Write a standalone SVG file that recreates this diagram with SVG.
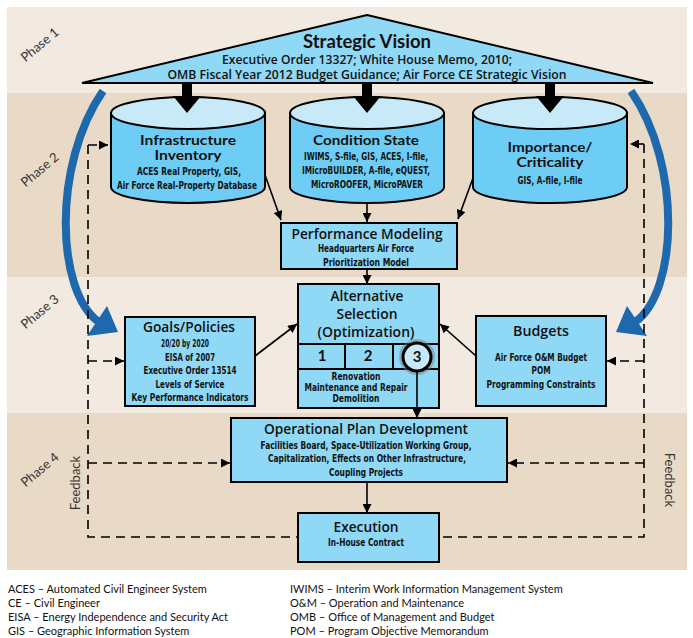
<svg xmlns="http://www.w3.org/2000/svg" width="693" height="638" viewBox="0 0 693 638">
<defs>
<marker id="ah" viewBox="0 0 10 10" refX="10" refY="5" markerWidth="10" markerHeight="9" markerUnits="userSpaceOnUse" orient="auto">
<path d="M0,0 L10,5 L0,10 z" fill="#000"/>
</marker>
<style>
.band1{fill:#f2e9e0}
.band2{fill:#e8dac7}
.box{fill:#8fd8f6;stroke:#000;stroke-width:2}
.cylb{fill:#6dcdf4;stroke:#000;stroke-width:2}
.cylt{fill:#c8eaf8;stroke:#000;stroke-width:2}
.ttl{font-family:"Open Sans",Lato,"Liberation Sans",sans-serif;font-weight:600;text-anchor:middle;fill:#111}
.bt{font-family:Lato,"Open Sans","Liberation Sans",sans-serif;font-weight:700;text-anchor:middle;fill:#111}
.cn{font-family:"Liberation Sans Narrow","DejaVu Sans Condensed","Liberation Sans",sans-serif;font-weight:700;text-anchor:middle;fill:#111;font-size:10.5px}
.ph{font-family:Lato,"Open Sans","Liberation Sans",sans-serif;font-size:13px;fill:#333;text-anchor:middle}
.lg{font-family:Lato,"Liberation Sans",sans-serif;font-size:11px;fill:#111}
.con{stroke:#000;stroke-width:1.6;fill:none}
.dash{stroke:#000;stroke-width:1.6;fill:none;stroke-dasharray:9,6}
.blue{stroke:#1e69ad;stroke-width:8;fill:none}
</style>
</defs>

<g id="bands">
<rect class="band1" x="7" y="7" width="680" height="86"/>
<rect class="band2" x="7" y="93" width="680" height="184"/>
<rect class="band1" x="7" y="277" width="680" height="136"/>
<rect class="band2" x="7" y="413" width="680" height="157"/>
<text class="ph" x="40" y="49" transform="rotate(-40 40 45)">Phase 1</text>
<text class="ph" x="40" y="174" transform="rotate(-40 40 170)">Phase 2</text>
<text class="ph" x="40" y="316" transform="rotate(-40 40 312)">Phase 3</text>
<text class="ph" x="40" y="474" transform="rotate(-40 40 470)">Phase 4</text>
</g>

<g id="strategic-vision">
<polygon points="367,15 653,83 82,83" fill="#8fd8f6" stroke="#000" stroke-width="2" stroke-linejoin="miter"/>
<text class="bt" x="367" y="48" font-size="18" textLength="128" lengthAdjust="spacingAndGlyphs">Strategic Vision</text>
<text class="ttl" x="367" y="63.5" font-size="12" textLength="290" lengthAdjust="spacingAndGlyphs">Executive Order 13327; White House Memo, 2010;</text>
<text class="ttl" x="367" y="79" font-size="12" textLength="399" lengthAdjust="spacingAndGlyphs">OMB Fiscal Year 2012 Budget Guidance; Air Force CE Strategic Vision</text>
</g>

<g id="infrastructure-inventory">
<path class="cylb" d="M111,113 V187 A77,16 0 0 0 265,187 V113 Z"/>
<ellipse class="cylt" cx="188" cy="113" rx="77" ry="16"/>
<text class="bt" x="188" y="145" font-size="13.5" textLength="96" lengthAdjust="spacingAndGlyphs">Infrastructure</text>
<text class="bt" x="188" y="160" font-size="13.5" textLength="67" lengthAdjust="spacingAndGlyphs">Inventory</text>
<text class="cn" x="189" y="175" textLength="104" lengthAdjust="spacingAndGlyphs">ACES Real Property, GIS,</text>
<text class="cn" x="187" y="189" textLength="140" lengthAdjust="spacingAndGlyphs">Air Force Real-Property Database</text>
</g>

<g id="condition-state">
<path class="cylb" d="M290,113 V187 A77,16 0 0 0 444,187 V113 Z"/>
<ellipse class="cylt" cx="367" cy="113" rx="77" ry="16"/>
<text class="bt" x="366" y="145" font-size="14" textLength="106" lengthAdjust="spacingAndGlyphs">Condition State</text>
<text class="cn" x="366" y="160" textLength="124" lengthAdjust="spacingAndGlyphs">IWIMS, S-file, GIS, ACES, I-file,</text>
<text class="cn" x="366" y="174" textLength="128" lengthAdjust="spacingAndGlyphs">IMicroBUILDER, A-file, eQUEST,</text>
<text class="cn" x="367" y="188" textLength="112" lengthAdjust="spacingAndGlyphs">MicroROOFER, MicroPAVER</text>
</g>

<g id="importance-criticality">
<path class="cylb" d="M473,113 V187 A77,16 0 0 0 627,187 V113 Z"/>
<ellipse class="cylt" cx="550" cy="113" rx="77" ry="16"/>
<text class="bt" x="550" y="152" font-size="13.5" textLength="85" lengthAdjust="spacingAndGlyphs">Importance/</text>
<text class="bt" x="550" y="167" font-size="13.5" textLength="67" lengthAdjust="spacingAndGlyphs">Criticality</text>
<text class="cn" x="550" y="184" textLength="65" lengthAdjust="spacingAndGlyphs">GIS, A-file, I-file</text>
</g>

<g id="performance-modeling">
<rect class="box" x="281" y="223" width="176" height="46"/>
<text class="ttl" x="367" y="239" font-size="13.5" textLength="151" lengthAdjust="spacingAndGlyphs">Performance Modeling</text>
<text class="cn" x="366" y="252" textLength="96" lengthAdjust="spacingAndGlyphs">Headquarters Air Force</text>
<text class="cn" x="366" y="266" textLength="86" lengthAdjust="spacingAndGlyphs">Prioritization Model</text>
</g>

<g id="alternative-selection">
<rect class="box" x="298" y="284" width="141" height="124"/>
<line x1="298" y1="344" x2="439" y2="344" stroke="#000" stroke-width="2"/>
<line x1="298" y1="369" x2="439" y2="369" stroke="#000" stroke-width="2"/>
<line x1="345" y1="344" x2="345" y2="369" stroke="#000" stroke-width="2"/>
<line x1="393" y1="344" x2="393" y2="369" stroke="#000" stroke-width="2"/>
<text class="ttl" x="367" y="301" font-size="14.5" textLength="73" lengthAdjust="spacingAndGlyphs">Alternative</text>
<text class="ttl" x="367" y="319" font-size="14.5" textLength="61" lengthAdjust="spacingAndGlyphs">Selection</text>
<text class="ttl" x="366" y="337" font-size="14.5" textLength="97" lengthAdjust="spacingAndGlyphs">(Optimization)</text>
<text class="bt" x="322" y="361" font-size="15">1</text>
<text class="bt" x="368" y="361" font-size="15">2</text>
<circle cx="417" cy="357" r="15" fill="none" stroke="#777" stroke-opacity="0.45" stroke-width="6"/>
<circle cx="417" cy="357" r="14" fill="#c8eaf8" stroke="#000" stroke-width="3"/>
<text class="bt" x="417" y="362" font-size="15">3</text>
<text class="cn" x="356" y="380" font-size="10" textLength="49" lengthAdjust="spacingAndGlyphs">Renovation</text>
<text class="cn" x="356" y="391" font-size="10" textLength="103" lengthAdjust="spacingAndGlyphs">Maintenance and Repair</text>
<text class="cn" x="356" y="402" font-size="10" textLength="47" lengthAdjust="spacingAndGlyphs">Demolition</text>
</g>

<g id="goals-policies">
<rect class="box" x="125" y="317" width="130" height="89"/>
<text class="ttl" x="189" y="332" font-size="14.5" textLength="92" lengthAdjust="spacingAndGlyphs">Goals/Policies</text>
<text class="cn" x="185" y="347" textLength="48" lengthAdjust="spacingAndGlyphs">20/20 by 2020</text>
<text class="cn" x="190" y="361" textLength="50" lengthAdjust="spacingAndGlyphs">EISA of 2007</text>
<text class="cn" x="190" y="374" textLength="93" lengthAdjust="spacingAndGlyphs">Executive Order 13514</text>
<text class="cn" x="190" y="388" textLength="69" lengthAdjust="spacingAndGlyphs">Levels of Service</text>
<text class="cn" x="190" y="401" textLength="117" lengthAdjust="spacingAndGlyphs">Key Performance Indicators</text>
</g>

<g id="budgets">
<rect class="box" x="476" y="316" width="130" height="90"/>
<text class="ttl" x="541" y="336" font-size="14.5" textLength="56" lengthAdjust="spacingAndGlyphs">Budgets</text>
<text class="cn" x="541" y="361" textLength="92" lengthAdjust="spacingAndGlyphs">Air Force O&amp;M Budget</text>
<text class="cn" x="541" y="374" textLength="19" lengthAdjust="spacingAndGlyphs">POM</text>
<text class="cn" x="541" y="388" textLength="109" lengthAdjust="spacingAndGlyphs">Programming Constraints</text>
</g>

<g id="operational-plan">
<rect class="box" x="231" y="418" width="276" height="64"/>
<text class="ttl" x="366" y="434" font-size="14.5" textLength="204" lengthAdjust="spacingAndGlyphs">Operational Plan Development</text>
<text class="cn" x="366" y="449" textLength="211" lengthAdjust="spacingAndGlyphs">Facilities Board, Space-Utilization Working Group,</text>
<text class="cn" x="367" y="462" textLength="198" lengthAdjust="spacingAndGlyphs">Capitalization, Effects on Other Infrastructure,</text>
<text class="cn" x="366" y="476" textLength="74" lengthAdjust="spacingAndGlyphs">Coupling Projects</text>
</g>

<g id="execution">
<rect class="box" x="298" y="513" width="141" height="49"/>
<text class="ttl" x="366" y="532" font-size="14.5" textLength="65" lengthAdjust="spacingAndGlyphs">Execution</text>
<text class="cn" x="366" y="546" textLength="76" lengthAdjust="spacingAndGlyphs">In-House Contract</text>
</g>

<g id="connectors">
<g fill="#000">
<rect x="182" y="83" width="10" height="14"/>
<polygon points="173,96 201,96 187,113"/>
<rect x="362" y="83" width="10" height="14"/>
<polygon points="353,96 381,96 367,113"/>
<rect x="545" y="83" width="10" height="14"/>
<polygon points="536,96 564,96 550,113"/>
</g>
<path class="blue" d="M103,91 C52,165 56,292 99,322"/>
<polygon points="118,332 87,336 107,306" fill="#1e69ad"/>
<path class="blue" d="M631,91 C682,165 678,292 635,322"/>
<polygon points="616,332 647,336 627,306" fill="#1e69ad"/>
<line class="con" x1="265" y1="175" x2="281" y2="220" marker-end="url(#ah)"/>
<line class="con" x1="367" y1="203" x2="367" y2="222" marker-end="url(#ah)"/>
<line class="con" x1="473" y1="178" x2="458" y2="219" marker-end="url(#ah)"/>
<line class="con" x1="367" y1="269" x2="367" y2="284" marker-end="url(#ah)"/>
<line class="con" x1="255" y1="356" x2="297" y2="324" marker-end="url(#ah)"/>
<line class="con" x1="476" y1="356" x2="440" y2="324" marker-end="url(#ah)"/>
<line class="con" x1="417" y1="371" x2="417" y2="418" marker-end="url(#ah)"/>
<line class="con" x1="367" y1="482" x2="367" y2="513" marker-end="url(#ah)"/>
<path class="dash" d="M88,145 V537 H298"/>
<path class="dash" d="M644,144 V537 H439"/>
<line class="dash" x1="88" y1="145" x2="108" y2="145" marker-end="url(#ah)" stroke-dasharray="none"/>
<line class="dash" x1="88" y1="361" x2="124" y2="361" marker-end="url(#ah)"/>
<line class="dash" x1="88" y1="463" x2="230" y2="463" marker-end="url(#ah)"/>
<line class="dash" x1="644" y1="144" x2="630" y2="144" marker-end="url(#ah)" stroke-dasharray="none"/>
<line class="dash" x1="644" y1="361" x2="607" y2="361" marker-end="url(#ah)"/>
<line class="dash" x1="644" y1="463" x2="508" y2="463" marker-end="url(#ah)"/>
<text class="ph" x="76" y="483" transform="rotate(-90 76 483)" dy="4">Feedback</text>
<text class="ph" x="669" y="480" transform="rotate(90 669 480)" dy="4">Feedback</text>
</g>

<g id="legend">
<text class="lg" x="8" y="593">ACES – Automated Civil Engineer System</text>
<text class="lg" x="8" y="607">CE – Civil Engineer</text>
<text class="lg" x="8" y="621">EISA – Energy Independence and Security Act</text>
<text class="lg" x="8" y="635">GIS – Geographic Information System</text>
<text class="lg" x="290" y="593">IWIMS – Interim Work Information Management System</text>
<text class="lg" x="290" y="607">O&amp;M – Operation and Maintenance</text>
<text class="lg" x="290" y="621">OMB – Office of Management and Budget</text>
<text class="lg" x="290" y="635">POM – Program Objective Memorandum</text>
</g>
</svg>
